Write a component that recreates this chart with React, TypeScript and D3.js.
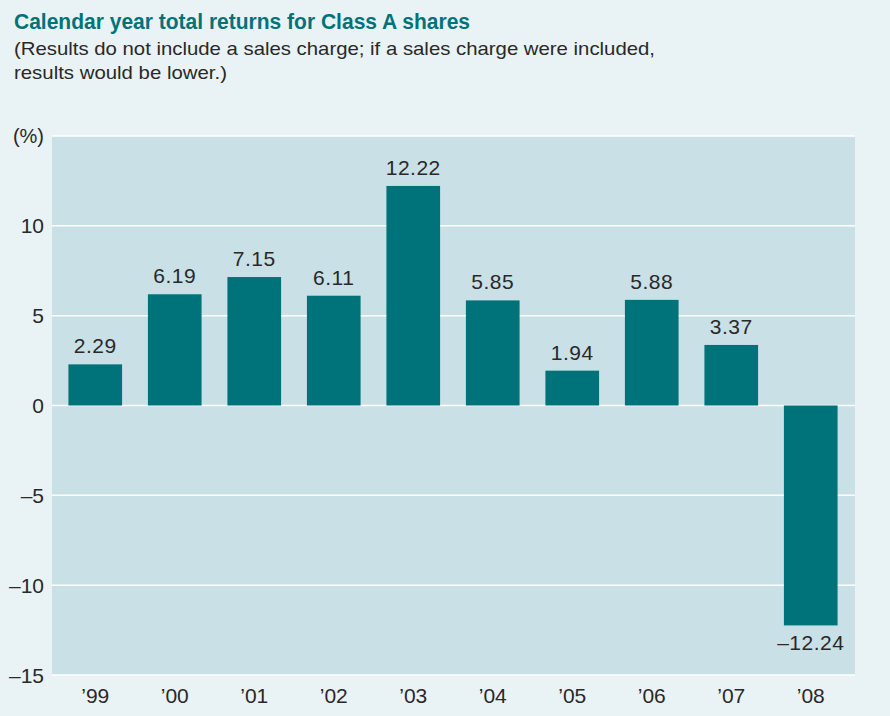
import React from "react";
import * as d3 from "d3";

const years = ["’99", "’00", "’01", "’02", "’03", "’04", "’05", "’06", "’07", "’08"];
const returns = [2.29, 6.19, 7.15, 6.11, 12.22, 5.85, 1.94, 5.88, 3.37, -12.24];
const valueLabels = ["2.29", "6.19", "7.15", "6.11", "12.22", "5.85", "1.94", "5.88", "3.37", "–12.24"];
const yTicks = [10, 5, 0, -5, -10, -15];
const gridValues = [15, 10, 5, 0, -5, -10, -15];

const W = 890;
const H = 716;
const plotLeft = 52;
const plotRight = 855;
const plotTop = 136;
const plotBottom = 675;

const BG = "#e9f3f5";
const PLOT = "#c9e0e6";
const BAR = "#00737a";
const TITLE = "#00737a";
const TEXT = "#2a2829";
const FONT = "'Liberation Sans', Arial, sans-serif";

const fmtTick = (v: number) => (v < 0 ? "–" + Math.abs(v) : String(v));

export default function App() {
  const y = d3.scaleLinear().domain([-15, 15]).range([plotBottom, plotTop]);
  const x = d3
    .scaleBand<string>()
    .domain(years)
    .range([55.5, 850.5])
    .paddingInner(0.325)
    .paddingOuter(0.1625);

  return (
    <svg
      width={W}
      height={H}
      style={{ position: "absolute", left: 0, top: 0, display: "block" }}
      fontFamily={FONT}
    >
      <rect x={0} y={0} width={W} height={H} fill={BG} />
      <text x={14} y={29} fontSize={22} fontWeight="bold" fill={TITLE} textLength={456} lengthAdjust="spacingAndGlyphs">
        Calendar year total returns for Class A shares
      </text>
      <text x={14} y={55} fontSize={19} fill={TEXT} textLength={641} lengthAdjust="spacingAndGlyphs">
        (Results do not include a sales charge; if a sales charge were included,
      </text>
      <text x={14} y={79} fontSize={19} fill={TEXT} textLength={213} lengthAdjust="spacingAndGlyphs">
        results would be lower.)
      </text>

      <rect x={plotLeft} y={plotTop} width={plotRight - plotLeft} height={plotBottom - plotTop} fill={PLOT} />
      {gridValues.map((v) => (
        <line key={v} x1={plotLeft} x2={plotRight} y1={y(v)} y2={y(v)} stroke="#ffffff" strokeWidth={1.5} />
      ))}

      <text x={44} y={143} fontSize={20} fill={TEXT} textAnchor="end">(%)</text>
      {yTicks.map((v) => (
        <text key={v} x={44} y={y(v) + 7.5} fontSize={21} fill={TEXT} textAnchor="end">
          {fmtTick(v)}
        </text>
      ))}

      {returns.map((v, i) => {
        const yy = y(Math.max(0, v));
        const h = Math.abs(y(v) - y(0));
        return (
          <rect key={years[i]} x={x(years[i])} y={yy} width={x.bandwidth()} height={h} fill={BAR} />
        );
      })}

      {returns.map((v, i) => (
        <text
          key={"l" + i}
          x={(x(years[i]) as number) + x.bandwidth() / 2}
          y={v >= 0 ? y(v) - 11 : y(v) + 25}
          fontSize={21}
          fill={TEXT}
          textAnchor="middle"
          letterSpacing={0.5}
        >
          {valueLabels[i]}
        </text>
      ))}

      {years.map((yr) => (
        <text
          key={"x" + yr}
          x={(x(yr) as number) + x.bandwidth() / 2}
          y={703}
          fontSize={21}
          fill={TEXT}
          textAnchor="middle"
        >
          {yr}
        </text>
      ))}
    </svg>
  );
}
